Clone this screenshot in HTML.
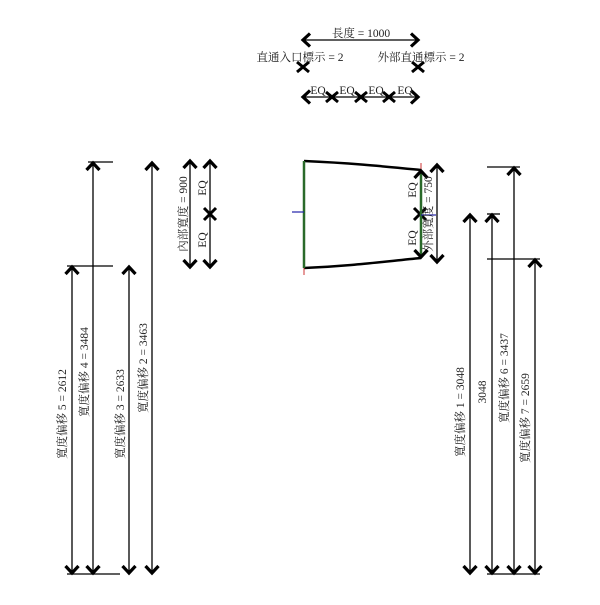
<!DOCTYPE html>
<html><head><meta charset="utf-8"><style>
body{margin:0;background:#fff}
svg text{font-family:"Liberation Serif","Noto Serif CJK SC","Noto Sans CJK TC",serif;font-size:11.5px;fill:#222}
</style></head><body>
<svg width="600" height="600" viewBox="0 0 600 600" xmlns="http://www.w3.org/2000/svg">
<defs>
<marker id="a" viewBox="-10 -10 20 20" markerWidth="20" markerHeight="20" refX="0" refY="0" orient="auto-start-reverse" markerUnits="userSpaceOnUse">
<polyline points="-7,-6.5 0,0 -7,6.5" fill="none" stroke="#000" stroke-width="3.2"/>
</marker>
</defs>
<g stroke="#000" stroke-width="1.3" fill="none">
<line x1="303" y1="40" x2="418" y2="40" marker-start="url(#a)" marker-end="url(#a)"/>
<line x1="303" y1="97" x2="418" y2="97" marker-start="url(#a)" marker-end="url(#a)"/>
</g>
<g stroke="#000" stroke-width="3">
<path d="M297,62 L309,72 M309,62 L297,72"/>
<path d="M412,62 L424,72 M424,62 L412,72"/>
<path d="M326,92 L338,102 M338,92 L326,102"/>
<path d="M355,92 L367,102 M367,92 L355,102"/>
<path d="M383,92 L395,102 M395,92 L383,102"/>
<path d="M204,208 L216,220 M216,208 L204,220"/>
<path d="M414,208 L426,220 M426,208 L414,220"/>
</g>
<text x="361" y="37" text-anchor="middle">長度 = 1000</text>
<text x="300" y="61" text-anchor="middle">直通入口標示 = 2</text>
<text x="421" y="61" text-anchor="middle">外部直通標示 = 2</text>
<text x="318" y="94" text-anchor="middle">EQ</text>
<text x="347" y="94" text-anchor="middle">EQ</text>
<text x="376" y="94" text-anchor="middle">EQ</text>
<text x="405" y="94" text-anchor="middle">EQ</text>

<g stroke="#000" stroke-width="1.3">
<line x1="190" y1="161" x2="190" y2="267" marker-start="url(#a)" marker-end="url(#a)"/>
<line x1="210" y1="161" x2="210" y2="267" marker-start="url(#a)" marker-end="url(#a)"/>
</g>
<text transform="translate(187,214) rotate(-90)" text-anchor="middle">內部寬度 = 900</text>
<text transform="translate(206,188) rotate(-90)" text-anchor="middle">EQ</text>
<text transform="translate(206,240) rotate(-90)" text-anchor="middle">EQ</text>

<path d="M304,161 C350,163 380,166 421,170" fill="none" stroke="#000" stroke-width="2.5"/>
<path d="M304,268 C350,266 380,262 421,258" fill="none" stroke="#000" stroke-width="2.5"/>
<line x1="304" y1="161" x2="304" y2="268" stroke="#2a6a2a" stroke-width="2.5"/>
<line x1="421" y1="170" x2="421" y2="258" stroke="#2a6a2a" stroke-width="2.5"/>
<g stroke="#c33" stroke-width="1"><line x1="304" y1="268" x2="304" y2="275"/><line x1="421" y1="163" x2="421" y2="170"/></g>
<g stroke="#22a" stroke-width="1.2"><line x1="292" y1="212" x2="304" y2="212"/><line x1="421" y1="215" x2="436" y2="215"/></g>
<g stroke="#000" stroke-width="1.3">
<line x1="437" y1="165" x2="437" y2="262" marker-start="url(#a)" marker-end="url(#a)"/>
<line x1="421" y1="171" x2="421" y2="257" marker-start="url(#a)" marker-end="url(#a)" stroke="none"/>
</g>
<text transform="translate(432,214) rotate(-90)" text-anchor="middle">外部寬度 = 750</text>
<text transform="translate(416,190) rotate(-90)" text-anchor="middle">EQ</text>
<text transform="translate(416,238) rotate(-90)" text-anchor="middle">EQ</text>

<g stroke="#000" stroke-width="1.3">
<line x1="72" y1="267" x2="72" y2="573" marker-start="url(#a)" marker-end="url(#a)"/>
<line x1="93" y1="163" x2="93" y2="573" marker-start="url(#a)" marker-end="url(#a)"/>
<line x1="129" y1="267" x2="129" y2="573" marker-start="url(#a)" marker-end="url(#a)"/>
<line x1="152" y1="163" x2="152" y2="573" marker-start="url(#a)" marker-end="url(#a)"/>
<line x1="88" y1="162" x2="113" y2="162"/>
<line x1="67" y1="266" x2="113" y2="266"/>
<line x1="67" y1="574" x2="120" y2="574"/>
</g>
<text transform="translate(66,414) rotate(-90)" text-anchor="middle">寬度偏移 5 = 2612</text>
<text transform="translate(88,372) rotate(-90)" text-anchor="middle">寬度偏移 4 = 3484</text>
<text transform="translate(124,414) rotate(-90)" text-anchor="middle">寬度偏移 3 = 2633</text>
<text transform="translate(147,368) rotate(-90)" text-anchor="middle">寬度偏移 2 = 3463</text>

<g stroke="#000" stroke-width="1.3">
<line x1="470" y1="215" x2="470" y2="573" marker-start="url(#a)" marker-end="url(#a)"/>
<line x1="492" y1="215" x2="492" y2="573" marker-start="url(#a)" marker-end="url(#a)"/>
<line x1="514" y1="168" x2="514" y2="573" marker-start="url(#a)" marker-end="url(#a)"/>
<line x1="535" y1="260" x2="535" y2="573" marker-start="url(#a)" marker-end="url(#a)"/>
<line x1="487" y1="214" x2="500" y2="214"/>
<line x1="487" y1="167" x2="520" y2="167"/>
<line x1="487" y1="259" x2="540" y2="259"/>
<line x1="487" y1="574" x2="540" y2="574"/>
</g>
<text transform="translate(464,412) rotate(-90)" text-anchor="middle">寬度偏移 1 = 3048</text>
<text transform="translate(486,392) rotate(-90)" text-anchor="middle">3048</text>
<text transform="translate(508,378) rotate(-90)" text-anchor="middle">寬度偏移 6 = 3437</text>
<text transform="translate(529,418) rotate(-90)" text-anchor="middle">寬度偏移 7 = 2659</text>
</svg>
</body></html>
